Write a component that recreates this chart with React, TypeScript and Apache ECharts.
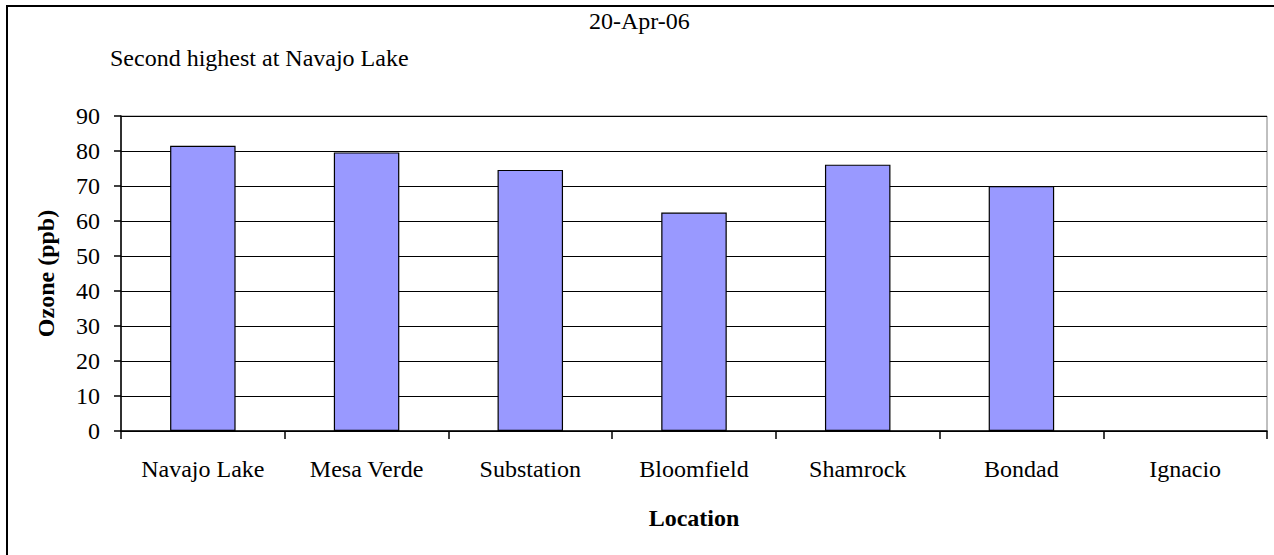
import React, { useEffect, useRef } from "react";
import * as echarts from "echarts";

const categories = ["Navajo Lake", "Mesa Verde", "Substation", "Bloomfield", "Shamrock", "Bondad", "Ignacio"];
const ozoneValues: (number | null)[] = [81.5, 79.6, 74.6, 62.4, 76.1, 70.0, null];
const yTicks = { min: 0, max: 90, interval: 10 };
const chartTitle = "20-Apr-06";
const noteText = "Second highest at Navajo Lake";
const yAxisName = "Ozone (ppb)";
const xAxisName = "Location";

const FONT = '"Liberation Serif", "Times New Roman", serif';

export default function App() {
  const ref = useRef<HTMLDivElement>(null);
  useEffect(() => {
    if (!ref.current) return;
    const chart = echarts.init(ref.current, null, { renderer: "svg" });
    chart.setOption({
      animation: false,
      backgroundColor: "#ffffff",
      title: [
        {
          text: noteText,
          left: 110,
          top: 46,
          padding: 0,
          textStyle: { fontFamily: FONT, fontSize: 24, fontWeight: "normal", color: "#000" },
        },
        {
          text: chartTitle,
          left: 589,
          top: 9,
          padding: 0,
          textStyle: { fontFamily: FONT, fontSize: 24, fontWeight: "normal", color: "#000" },
        },
      ],
      graphic: [
        {
          type: "rect",
          shape: { x: 7, y: 6, width: 1300, height: 600 },
          style: { fill: "none", stroke: "#000", lineWidth: 2 },
          silent: true,
        },
      ],
      grid: {
        left: 121,
        right: 7,
        top: 116,
        bottom: 124,
        show: true,
        borderColor: "#808080",
        borderWidth: 1,
        backgroundColor: "transparent",
      },
      xAxis: {
        type: "category",
        data: categories,
        name: xAxisName,
        nameLocation: "middle",
        nameGap: 75,
        nameTextStyle: { fontFamily: FONT, fontSize: 24, fontWeight: "bold", color: "#000" },
        axisLine: { show: true, lineStyle: { color: "#000", width: 1.5 } },
        axisTick: { show: true, length: 8, lineStyle: { color: "#000", width: 1.5 } },
        axisLabel: { fontFamily: FONT, fontSize: 24, color: "#000", margin: 26, interval: 0 },
        splitLine: { show: false },
      },
      yAxis: {
        type: "value",
        min: yTicks.min,
        max: yTicks.max,
        interval: yTicks.interval,
        name: yAxisName,
        nameLocation: "middle",
        nameGap: 63,
        nameTextStyle: { fontFamily: FONT, fontSize: 24, fontWeight: "bold", color: "#000" },
        axisLine: { show: true, lineStyle: { color: "#000", width: 1.5 } },
        axisTick: { show: true, length: 7, lineStyle: { color: "#000", width: 1.5 } },
        axisLabel: { fontFamily: FONT, fontSize: 24, color: "#000", margin: 21 },
        splitLine: { show: true, lineStyle: { color: "#000", width: 1.2 } },
      },
      series: [
        {
          type: "bar",
          data: ozoneValues,
          barWidth: "40%",
          itemStyle: { color: "#9999FF", borderColor: "#000", borderWidth: 1.2 },
        },
      ],
    });
    return () => chart.dispose();
  }, []);
  return (
    <div
      ref={ref}
      style={{ position: "fixed", left: 0, top: 0, width: 1274, height: 555 }}
    />
  );
}
